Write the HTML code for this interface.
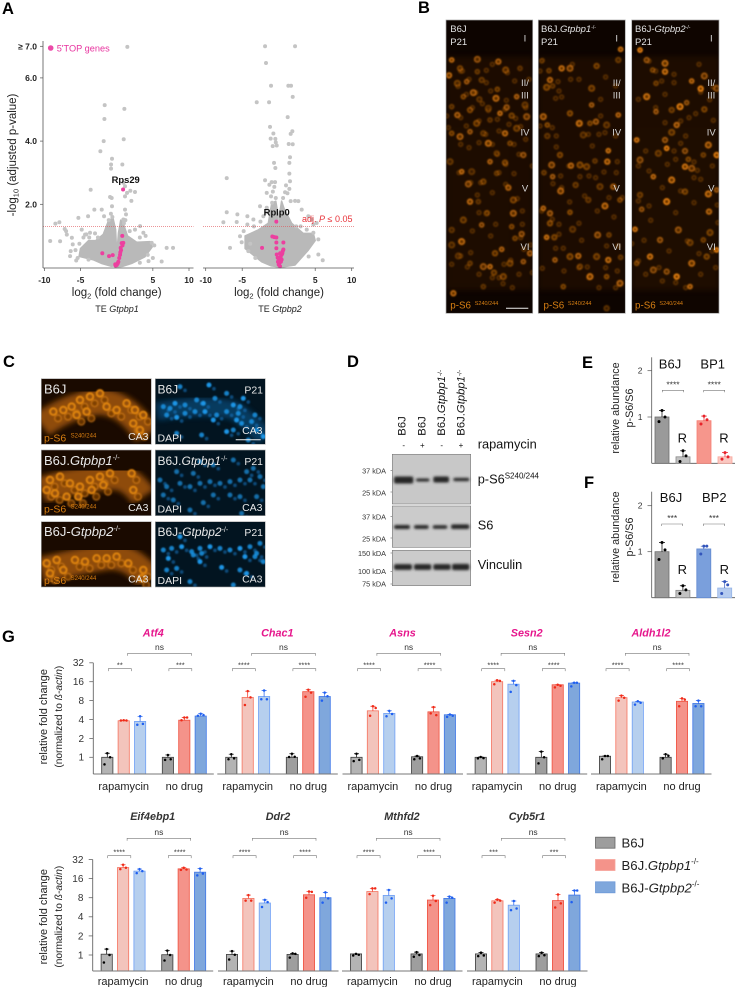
<!DOCTYPE html>
<html lang="en">
<head>
<meta charset="utf-8">
<title>Multi-panel figure</title>
<style>
html,body{margin:0;padding:0;background:#fff;}
#figure{display:block;position:absolute;left:0;top:0;font-family:"Liberation Sans",sans-serif;}
.lbl{font-weight:bold;font-size:16.5px;fill:#000;}
.it{font-style:italic;}
</style>
</head>
<body>
<svg id="figure" xmlns="http://www.w3.org/2000/svg" width="736" height="987" viewBox="0 0 736 987">
<defs>
<filter id="soft" x="-5%" y="-5%" width="110%" height="110%"><feGaussianBlur stdDeviation="2.5"/></filter>
<filter id="softer" x="-20%" y="-30%" width="140%" height="160%"><feGaussianBlur stdDeviation="9"/></filter>
<filter id="bandblur" x="-20%" y="-80%" width="140%" height="260%"><feGaussianBlur stdDeviation="1.2"/></filter>
</defs>
<rect width="736" height="987" fill="#fff"/>

<!-- panel letters -->
<text class="lbl" x="2" y="14">A</text>
<text class="lbl" x="418" y="13">B</text>
<text class="lbl" x="3" y="367">C</text>
<text class="lbl" x="347" y="367">D</text>
<text class="lbl" x="582" y="368">E</text>
<text class="lbl" x="584" y="488">F</text>
<text class="lbl" x="2" y="642">G</text>

<!-- panel A -->
<g id="volcano-left"></g>
<g id="volcano-right"></g>
<text transform="translate(16,155) rotate(-90)" text-anchor="middle" font-size="11.5" fill="#222">-log<tspan dy="2.5" font-size="7.5">10</tspan><tspan dy="-2.5"> (adjusted p-value)</tspan></text>
<text x="116.7" y="296" text-anchor="middle" font-size="11.5" fill="#222">log<tspan dy="2.5" font-size="7.5">2</tspan><tspan dy="-2.5"> (fold change)</tspan></text>
<text x="279" y="296" text-anchor="middle" font-size="11.5" fill="#222">log<tspan dy="2.5" font-size="7.5">2</tspan><tspan dy="-2.5"> (fold change)</tspan></text>
<text x="117" y="312" text-anchor="middle" font-size="9" fill="#222">TE <tspan class="it">Gtpbp1</tspan></text>
<text x="280" y="312" text-anchor="middle" font-size="9" fill="#222">TE <tspan class="it">Gtpbp2</tspan></text>
<circle cx="50.7" cy="48" r="2.8" fill="#ec4aa8"/>
<text x="56.7" y="51.5" font-size="9.2" fill="#e8339f">5'TOP genes</text>
<text x="125.7" y="183" text-anchor="middle" font-size="9.4" font-weight="bold" fill="#111">Rps29</text>
<text x="276.7" y="215.5" text-anchor="middle" font-size="9.4" font-weight="bold" fill="#111">Rplp0</text>
<text x="302" y="222" font-size="9" fill="#e8333a">adj. <tspan class="it">P</tspan> ≤ 0.05</text>

<!-- panel B -->
<svg id="cortex-1" x="446" y="20" width="86.7" height="293.3" viewBox="228 60 260 880"><rect x="228" y="60" width="260" height="880" fill="#0d0400"/></svg>
<svg id="cortex-2" x="538.3" y="20" width="87" height="293.3" viewBox="505 60 261 880"><rect x="505" y="60" width="261" height="880" fill="#0d0400"/></svg>
<svg id="cortex-3" x="631.7" y="20" width="87.3" height="293.3" viewBox="785 60 262 880"><rect x="785" y="60" width="262" height="880" fill="#0f0500"/></svg>
<g fill="none" stroke="#a8a8a8" stroke-width=".7">
<rect x="446" y="20" width="86.7" height="293.3"/>
<rect x="538.3" y="20" width="87" height="293.3"/>
<rect x="631.7" y="20" width="87.3" height="293.3"/>
</g>
<g id="cortex-text" font-size="9.5" fill="#e2e2e2">
<text x="450.3" y="32">B6J</text>
<text x="450.3" y="45">P21</text>
<text x="541" y="32">B6J.<tspan class="it">Gtpbp1</tspan><tspan font-size="5" dy="-3">-/-</tspan></text>
<text x="541" y="45">P21</text>
<text x="635" y="32">B6J-<tspan class="it">Gtpbp2</tspan><tspan font-size="5" dy="-3">-/-</tspan></text>
<text x="635" y="45">P21</text>
</g>
<g fill="#d77f12">
<text x="450.3" y="308.5" font-size="9.8">p-S6 <tspan font-size="5.5" dy="-3.5" dx="1">S240/244</tspan></text>
<text x="543.5" y="308.5" font-size="9.8">p-S6 <tspan font-size="5.5" dy="-3.5" dx="1">S240/244</tspan></text>
<text x="635" y="308.5" font-size="9.8">p-S6 <tspan font-size="5.5" dy="-3.5" dx="1">S240/244</tspan></text>
</g>
<line x1="506" y1="308.3" x2="528.3" y2="308.3" stroke="#eee" stroke-width="1"/>

<!-- panel C -->
<svg id="ca3-o1" x="41.3" y="378.7" width="110" height="65.6" viewBox="124 116 330 197"><rect x="124" y="116" width="330" height="197" fill="#1a0a00"/></svg>
<svg id="ca3-o2" x="41.3" y="450" width="110" height="65.7" viewBox="124 330 330 197"><rect x="124" y="330" width="330" height="197" fill="#1a0a00"/></svg>
<svg id="ca3-o3" x="41.3" y="521.7" width="110" height="65.3" viewBox="124 545 330 196"><rect x="124" y="545" width="330" height="196" fill="#1a0a00"/></svg>
<svg id="ca3-b1" x="155.3" y="378.7" width="110" height="65.6" viewBox="466 116 330 197"><rect x="466" y="116" width="330" height="197" fill="#021420"/></svg>
<svg id="ca3-b2" x="155.3" y="450" width="110" height="65.7" viewBox="466 330 330 197"><rect x="466" y="330" width="330" height="197" fill="#021420"/></svg>
<svg id="ca3-b3" x="155.3" y="521.7" width="110" height="65.3" viewBox="466 545 330 196"><rect x="466" y="545" width="330" height="196" fill="#021420"/></svg>
<g fill="none" stroke="#a8a8a8" stroke-width=".6">
<rect x="41.3" y="378.7" width="110" height="65.6"/>
<rect x="41.3" y="450" width="110" height="65.7"/>
<rect x="41.3" y="521.7" width="110" height="65.3"/>
<rect x="155.3" y="378.7" width="110" height="65.6"/>
<rect x="155.3" y="450" width="110" height="65.7"/>
<rect x="155.3" y="521.7" width="110" height="65.3"/>
</g>
<g fill="#e8e8e8" font-size="13">
<text x="44" y="393.5">B6J</text>
<text x="44" y="465">B6J.<tspan class="it">Gtpbp1</tspan><tspan font-size="7.5" dy="-5">-/-</tspan></text>
<text x="44" y="536">B6J-<tspan class="it">Gtpbp2</tspan><tspan font-size="7.5" dy="-5">-/-</tspan></text>
<text x="157.5" y="393.5" font-size="12">B6J</text>
<text x="157.5" y="465" font-size="12">B6J.<tspan class="it">Gtpbp1</tspan><tspan font-size="7" dy="-4">-/-</tspan></text>
<text x="157.5" y="536" font-size="12">B6J-<tspan class="it">Gtpbp2</tspan><tspan font-size="7" dy="-4">-/-</tspan></text>
</g>
<g fill="#e8e8e8" font-size="10.5" text-anchor="end">
<text x="263" y="393.5">P21</text>
<text x="263" y="465">P21</text>
<text x="263" y="536">P21</text>
<text x="148.5" y="440">CA3</text>
<text x="148.5" y="511">CA3</text>
<text x="148.5" y="582.5">CA3</text>
<text x="262.5" y="434">CA3</text>
<text x="262.5" y="511">CA3</text>
<text x="262.5" y="582.5">CA3</text>
</g>
<g fill="#e8e8e8" font-size="10.5">
<text x="157.5" y="441.5">DAPI</text>
<text x="157.5" y="512.5">DAPI</text>
<text x="157.5" y="584">DAPI</text>
</g>
<g fill="#d97f10" font-size="10.5">
<text x="44" y="441.5">p-S6 <tspan font-size="6" dy="-4" dx="1.5">S240/244</tspan></text>
<text x="44" y="512.5">p-S6 <tspan font-size="6" dy="-4" dx="1.5">S240/244</tspan></text>
<text x="44" y="584">p-S6 <tspan font-size="6" dy="-4" dx="1.5">S240/244</tspan></text>
</g>
<line x1="235.7" y1="439.7" x2="260.7" y2="439.7" stroke="#eee" stroke-width="1"/>

<!-- panel D -->
<g font-size="11.3" fill="#111">
<text transform="translate(405.7,435.7) rotate(-90)">B6J</text>
<text transform="translate(425.7,435.7) rotate(-90)">B6J</text>
<text transform="translate(445,435.7) rotate(-90)">B6J.<tspan class="it">Gtpbp1</tspan><tspan font-size="6.5" dy="-3">-/-</tspan></text>
<text transform="translate(464.3,435.7) rotate(-90)">B6J.<tspan class="it">Gtpbp1</tspan><tspan font-size="6.5" dy="-3">-/-</tspan></text>
</g>
<g font-size="8" fill="#111" text-anchor="middle">
<text x="403.7" y="448">-</text>
<text x="422.3" y="448">+</text>
<text x="441.7" y="448">-</text>
<text x="461" y="448">+</text>
</g>
<text x="477.7" y="448.5" font-size="12.8" fill="#111">rapamycin</text>
<rect x="392.3" y="454.3" width="78.4" height="49.7" fill="#c8c8c8" stroke="#777" stroke-width=".6"/>
<rect x="392.3" y="506" width="78.4" height="41.3" fill="#cbcbcb" stroke="#777" stroke-width=".6"/>
<rect x="392.3" y="550.3" width="78.4" height="35.4" fill="#cbcbcb" stroke="#777" stroke-width=".6"/>
<g id="blot-bands" fill="#262626"></g>
<g font-size="12.8" fill="#111">
<text x="477.7" y="483.3">p-S6<tspan font-size="8" dy="-5">S240/244</tspan></text>
<text x="477.7" y="529.5">S6</text>
<text x="477.7" y="569">Vinculin</text>
</g>
<g font-size="7.3" fill="#333" text-anchor="end">
<text x="386" y="473.5">37 kDA</text>
<text x="386" y="495.5">25 kDA</text>
<text x="386" y="519.5">37 kDA</text>
<text x="386" y="541.5">25 kDA</text>
<text x="386" y="556">150 kDA</text>
<text x="386" y="574">100 kDA</text>
<text x="386" y="586.5">75 kDA</text>
</g>
<g stroke="#666" stroke-width=".6">
<line x1="390.5" y1="470.5" x2="392.3" y2="470.5"/>
<line x1="390.5" y1="492" x2="392.3" y2="492"/>
<line x1="390.5" y1="516.5" x2="392.3" y2="516.5"/>
<line x1="390.5" y1="538" x2="392.3" y2="538"/>
<line x1="390.5" y1="553" x2="392.3" y2="553"/>
<line x1="390.5" y1="571.5" x2="392.3" y2="571.5"/>
<line x1="390.5" y1="584" x2="392.3" y2="584"/>
</g>

<!-- panels E, F -->
<g id="panel-e"></g>
<g id="panel-f"></g>
<g font-size="10.8" fill="#222" text-anchor="middle">
<text transform="translate(619,408) rotate(-90)">relative abundance</text>
<text transform="translate(633,408) rotate(-90)">p-S6/S6</text>
<text transform="translate(619,537) rotate(-90)">relative abundance</text>
<text transform="translate(633,537) rotate(-90)">p-S6/S6</text>
</g>
<g font-size="13" fill="#111" text-anchor="middle">
<text x="670" y="368.5">B6J</text>
<text x="712.7" y="368.5">BP1</text>
<text x="671" y="502" font-size="13">B6J</text>
<text x="714.3" y="502" font-size="13">BP2</text>
<text x="682.3" y="442.5">R</text>
<text x="724" y="442.5">R</text>
<text x="682.3" y="574">R</text>
<text x="724.3" y="574">R</text>
</g>

<!-- panel G -->
<g id="panel-g"></g>
<g font-size="11" fill="#222" text-anchor="middle">
<text transform="translate(47,716.7) rotate(-90)">relative fold change</text>
<text transform="translate(62,716.7) rotate(-90)" font-size="10.2">(normalized to <tspan class="it">ß-actin</tspan>)</text>
<text transform="translate(47,916.7) rotate(-90)">relative fold change</text>
<text transform="translate(62,916.7) rotate(-90)" font-size="10.2">(normalized to <tspan class="it">ß-actin</tspan>)</text>
</g>

<!-- legend G -->
<rect x="595.5" y="837.2" width="19.5" height="11" fill="#9d9d9d" stroke="#666" stroke-width=".8"/>
<rect x="595.5" y="859.5" width="19.5" height="11" fill="#f4938a" stroke="#f7a39a" stroke-width=".8"/>
<rect x="595.5" y="881.8" width="19.5" height="11" fill="#7fa7dc" stroke="#6e9ad8" stroke-width=".8"/>
<g font-size="13.2" fill="#222">
<text x="621.5" y="847.5">B6J</text>
<text x="621.5" y="870">B6J.<tspan class="it">Gtpbp1</tspan><tspan font-size="8" dy="-6">-/-</tspan></text>
<text x="621.5" y="892.5">B6J-<tspan class="it">Gtpbp2</tspan><tspan font-size="8" dy="-6">-/-</tspan></text>
</g>

<script>
/* ---------- Panel A data: [log2 fold change, -log10 p] ---------- */
const volcanoXTicks = [-10, -5, 5, 10];
const volcanoYTicks = [2, 4, 6, 7];
const volcanoThreshold = 1.3;
const leftOutliers = [[1.47,6.98],[-1.66,5.14],[1.06,5.02],[-1.7,4.7],[.97,4.06],[-1.8,4],[-2.26,3.68],[-.65,3.44],[-.78,3.26],[.78,3.26],[-.78,3.13],[-3.6,2.46],[.92,2.68],[1.15,2.57],[1.89,2.43],[1.43,2.36],[2.53,2.39],[-.92,2.23],[-.69,2.2],[1.15,2.25],[2.03,2.11],[-2.07,1.83],[-3.09,1.83],[-.65,1.94],[1.15,1.83],[1.29,1.68],[-3.96,1.62],[-5.3,1.57],[-1.75,1.62],[.92,1.52],[-7.93,1.43],[-8.48,1.39],[-7.19,1.22],[-7,1.15],[-9.2,.84],[-7.83,.83],[-6.9,1.04],[-6.2,.94],[-6.08,.73],[-5.16,.75],[-6.36,.52],[-6.45,.36],[7.79,.62],[6.91,.62],[6.22,.19],[4.84,.78],[3.69,1.1],[3.23,1.31],[2.53,1.2],[-3.69,1.1],[-4.84,1.2],[-4.38,1.04],[-.8,1.7],[-.6,1.6],[1,1.4],[-1.1,1.5],[1.2,1.5],[-4.6,.95],[-5.4,.3],[-4.2,1.05],[-3.8,.95],[-3,1.08],[-2.6,.95],[3.2,.95],[4,1],[5.2,.7],[4.3,.4],[5,.3],[-5.6,.22],[-5.7,.55],[-3.9,.25],[3.2,.15],[4.4,.2],[1.8,1.15]];
const leftCloudNeg = [[-5.2,.35],[-5,.6],[-3.9,.85],[-2.9,.85],[-1.85,1.05],[-1.1,1.5],[-.5,1.55],[-.15,1.2],[-.02,.55],[.02,.05],[-.8,.04],[-2,.12],[-3.2,.24]];
const leftCloudPos = [[.06,.55],[.25,1.1],[.55,1.5],[.9,1.4],[1.5,1],[2.77,.8],[4.6,.82],[4.9,.65],[3.9,.34],[2.07,.13],[.9,.04],[.1,.02]];
const leftPink = [[.88,2.47],[.77,1],[.69,.77],[.91,.78],[.8,.7],[.6,.55],[.55,.62],[.46,.4],[.5,.48],[.35,.3],[.23,.18],[.15,.14],[0,.08],[-.15,.06],[.1,.12],[-.2,.1],[-1.99,.45],[-1.06,.36],[-.55,.39]];
const rightOutliers = [[-1.87,7],[2.24,7],[-1.74,6.47],[-1.05,5.75],[1.32,5.75],[1.69,5.75],[1.92,5.4],[-3.01,5.23],[-1.32,5.23],[1.23,4.76],[-1.19,4.45],[1.87,4.31],[1.64,4.23],[-.73,4.24],[-1.1,4.08],[-.46,4.07],[-.4,3.96],[-.82,3.84],[-.27,3.86],[1.37,3.91],[1.92,3.9],[1.55,3.49],[1.46,3.31],[-.64,3.31],[-.46,3.15],[1.46,2.97],[-7.12,2.83],[-1.87,2.76],[-.96,2.7],[-.5,2.7],[1.55,2.73],[-1.28,2.62],[1.46,2.49],[.87,2.38],[-1.64,2.36],[-1.05,2.25],[2.24,2.11],[2.69,2.1],[1.64,2.1],[-7.12,1.75],[-5.66,1.68],[-7.58,1.43],[-5.75,1.44],[-4.29,1.62],[-3.47,1.52],[-2.1,1.62],[-2.56,1.94],[-1.64,1.89],[4.52,1.52],[5.2,1.41],[4.75,1.36],[-4.29,1.36],[-5.3,.99],[-6.67,.62],[-5.07,.8],[-4.16,.52],[5.43,.89],[5.43,.41],[6.03,.23],[4.06,1.62],[3.15,1.83],[3.84,1.2],[4.75,1.1],[-.8,2.4],[-.6,2.55],[-.9,2.05],[-.4,2.2],[.6,2.2],[1.2,2.35],[1,2.6],[-3.4,1.3],[-2.5,1.45],[-1.7,1.75],[-4.8,1.15],[-3.9,.75],[2.4,1.3],[3,1.3],[4.1,.35],[-3.2,.3]];
const rightCloudNeg = [[-4.6,.6],[-4.6,1],[-2.8,1.19],[-1.42,1.4],[-.96,2.03],[-.4,2.1],[-.12,1.7],[-.04,.87],[0,.02],[-1,.05],[-2.33,.18],[-3.5,.4]];
const rightCloudPos = [[.06,.87],[.12,1.7],[.4,2.1],[.75,1.85],[1.78,1.4],[3.37,1.08],[4.74,1.08],[5,.85],[4.05,.55],[2.23,.08],[.6,.02],[.1,.02]];
const rightPink = [[-.32,1.45],[-.87,.98],[-.6,.96],[-.32,.95],[.64,.79],[-.32,.79],[-.32,.61],[-2.28,.62],[.64,.57],[.55,.52],[.41,.41],[.27,.34],[-.27,.41],[-.14,.31],[.09,.25],[.09,.15],[.18,.04],[0,.09],[.4,.25],[-.1,.18],[.5,.45],[.3,.18],[-.05,.3],[.2,.45]];

/* ---------- Panel E / F data ---------- */
const eBarValues = [1, 0.14, 0.92, 0.14];
const ePointValues = [[1.14,1,.9],[.27,.16,.04],[1.02,.94,.85],[.23,.14,.09]];
const fBarValues = [1, 0.16, 1.06, 0.21];
const fPointValues = [[1.2,1.04,.83],[.26,.17,.09],[1.12,1.12,.95],[.35,.28,.09]];
const eStars = ['****','****'];
const fStars = ['***','***'];
const abundanceTicks = [1, 2];

/* ---------- Panel G data ---------- */
const foldTicks = [1, 2, 4, 8, 16, 32];
const groupLabels = ['rapamycin', 'no drug'];
const topGenes = ['Atf4','Chac1','Asns','Sesn2','Aldh1l2'];
const bottomGenes = ['Eif4ebp1','Ddr2','Mthfd2','Cyb5r1'];
const topStars = [['**','***'],['****','****'],['****','****'],['****','****'],['****','****']];
const bottomStars = [['****','****'],['****','****'],['****','****'],['***','***']];
const topBarValues = [
  [1,3.82,3.73,1,3.9,4.54],
  [1,9,9.3,1,11.1,9.3],
  [1,5.5,5,1.02,5.3,4.76],
  [1,16,14.6,1,14.3,15.2],
  [1.04,8.9,7.6,1,7.8,7.2]
];
const bottomBarValues = [
  [1.03,23.9,21,1.01,22.8,20.2],
  [1.02,7.8,6.6,1.02,8.9,8],
  [1.04,10,8.7,1.04,7.35,7.8],
  [1.04,7.15,6.1,1.04,7.2,8.8]
];
const topPointValues = [
  [[1.16,1,.77],[3.9,3.85,3.85],[4.5,3.4,3.3],[1.09,.93,.91],[4.3,4.3,3.9],[4.95,4.7,4.6]],
  [[1.12,.96,.93],[11.3,9,6.8],[11.6,8.4,8.4],[1.14,1.02,1.01],[11.9,10.7,9.2],[10.7,9.4,8]],
  [[1.14,.91,.87],[6.5,6.1,4.6],[5.5,4.9,4.5],[1.05,.96,.93],[6.3,4.7,5],[4.8,4.6,4.4]],
  [[1.01,.97,.96],[16.9,16.5,14.6],[16.5,14.1,11],[1.23,1,.8],[14.3,13.8,13],[15.4,15.4,13.5]],
  [[1.05,1.05,.93],[9.6,8.9,8],[7.8,7.4,6.9],[1.12,1.06,.96],[8.7,8.3,6.5],[8,6.5,6.5]]
];
const bottomPointValues = [
  [[1.24,1,.76],[26.4,23.7,22.6],[22.6,21,19.5],[1.17,1,.82],[23.7,22.3,22],[23,19.2,18]],
  [[1.15,1.01,.85],[8.8,7.2,7.2],[7.4,6.8,5.7],[1.06,1.04,.91],[10,9.9,8],[9.7,7.8,6.7]],
  [[1.04,1.01,.98],[11.2,11.2,9.1],[10.6,7.8,6.7],[1.11,1,.94],[8.6,7.1,6.1],[8.3,8,6.7]],
  [[1.09,.98,.96],[7.5,7.2,6.7],[7.1,5.4,5.1],[1.09,.99,.96],[9,6.5,5.6],[10.4,10.4,6.8]]
];

/* ---------- Micrograph texture (picture coordinates, not chart data) ---------- */
const cortexCells1 = [[245,180],[270,205],[322,178],[322,215],[385,185],[407,210],[450,205],[237,226],[262,250],[290,245],[335,240],[310,278],[280,290],[328,298],[378,295],[382,268],[410,322],[465,315],[440,290],[300,330],[355,325],[390,340],[425,347],[470,350],[245,320],[262,345],[320,370],[360,360],[405,400],[440,385],[300,395],[340,400],[270,410],[245,400],[380,460],[355,430],[420,430],[460,465],[240,485],[360,485],[405,488],[305,515],[275,515],[340,545],[295,552],[380,520],[415,563],[430,600],[325,605],[300,605],[280,660],[335,675],[350,640],[430,640],[425,680],[245,690],[275,725],[435,715],[455,702],[245,735],[395,748],[375,760],[265,768],[360,800],[372,818],[340,800],[300,790],[480,760],[400,830],[340,860],[250,880],[420,790],[460,785]];
const cortexCells2 = [[752,148],[680,198],[600,205],[537,212],[540,240],[530,262],[548,258],[575,205],[665,265],[665,315],[745,180],[520,350],[532,375],[532,408],[628,370],[660,370],[678,365],[710,375],[745,345],[600,340],[640,405],[715,452],[570,465],[545,495],[522,518],[603,497],[630,495],[675,483],[712,485],[650,500],[548,530],[617,555],[572,573],[600,637],[655,600],[705,618],[750,600],[730,560],[690,560],[520,625],[540,670],[608,688],[530,712],[553,712],[683,705],[717,705],[625,768],[600,770],[752,772],[715,780],[680,770],[555,780],[630,800],[750,850],[710,830],[710,925],[660,830],[580,860],[540,640]];
const cortexCells3 = [[810,150],[830,180],[885,190],[848,210],[885,215],[1003,228],[858,250],[992,266],[1040,265],[965,243],[1003,328],[830,290],[858,335],[905,330],[930,320],[950,308],[920,375],[905,397],[800,420],[885,420],[865,460],[890,445],[945,453],[1015,435],[955,478],[945,500],[965,505],[1000,465],[1040,465],[810,480],[850,530],[945,575],[1015,582],[1040,570],[810,585],[890,605],[815,628],[1017,635],[1020,698],[795,688],[870,720],[960,728],[1040,750],[890,815],[965,790],[800,790],[840,770],[925,690],[1000,720],[920,830],[850,810],[960,860],[1010,770],[905,540]];
const cellBrightness = [1,.6,.8,.5,.9,.65,.45];
const ca3Orange = [
 {band:'M124,255 Q200,200 290,185 Q380,185 440,285',cells:[[160,215],[190,210],[215,200],[240,180],[270,170],[300,160],[320,200],[350,210],[380,190],[405,210],[430,225],[400,250],[420,270],[260,215],[230,225]]},
 {band:'M124,450 Q210,420 340,410 Q390,410 430,470',cells:[[150,420],[180,410],[210,430],[240,440],[270,420],[300,410],[330,400],[395,400],[165,460],[200,470],[235,470],[275,450],[310,435],[400,450],[140,450]]},
 {band:'M124,690 Q250,660 330,650 Q400,650 445,715',cells:[[150,700],[190,690],[225,660],[255,665],[290,655],[320,655],[350,650],[385,670],[430,690],[425,715],[170,660],[140,670]]}
];
const ca3BlueBands = ['M470,215 Q600,190 700,210 Q750,240 795,295','M466,435 H796','M466,630 H796'];
const ca3Blue = [
 [[627,135],[540,140],[680,160],[730,175],[490,200],[510,205],[525,190],[555,195],[590,180],[610,190],[645,175],[500,225],[530,232],[555,220],[585,215],[615,215],[650,225],[680,215],[700,195],[720,200],[715,220],[710,240],[725,250],[700,270],[680,275],[755,245],[770,270],[790,290],[605,285],[530,280],[640,240],[745,300],[765,225]],
 [[600,365],[640,375],[700,360],[530,395],[480,420],[500,440],[540,430],[570,440],[600,430],[630,425],[660,430],[690,425],[720,420],[750,420],[780,410],[490,465],[640,465],[690,465],[720,470],[770,470],[610,488],[520,480],[570,510],[725,520],[580,400],[740,395],[760,385],[790,440]],
 [[540,590],[490,630],[515,625],[545,620],[575,635],[600,625],[630,620],[660,625],[690,630],[720,625],[750,620],[780,610],[505,655],[580,645],[605,640],[735,650],[765,650],[790,665],[665,682],[720,690],[530,685],[600,665],[770,640],[700,735],[740,700],[500,690],[570,725]]
];

const NS = 'http://www.w3.org/2000/svg';
function node(parent, tag, attrs, txt) {
  const el = document.createElementNS(NS, tag);
  for (const k in attrs) el.setAttribute(k, attrs[k]);
  if (txt !== undefined) el.textContent = txt;
  parent.appendChild(el);
  return el;
}
const root = document.getElementById('figure');

/* ---------- Volcano plots ---------- */
function drawVolcano(host, cfg) {
  const x = v => cfg.x0 + v * cfg.xUnit;
  const y = v => 267.5 - v * 31.6;
  const polyPoints = arr => arr.map(p => x(p[0]).toFixed(1) + ',' + y(p[1]).toFixed(1)).join(' ');
  [cfg.cloudNeg, cfg.cloudPos].forEach(cloud => {
    const poly = node(host, 'polygon', {points: polyPoints(cloud), fill: '#b9b9b9', stroke: '#b9b9b9', 'stroke-width': 1.5, 'stroke-linejoin': 'round'});
    
    
  });
  cfg.outliers.forEach(p => {
    const c = node(host, 'circle', {cx: x(p[0]), cy: y(p[1]), r: 2, fill: '#c4c4c4'});
    
    
  });
  cfg.pink.forEach(p => {
    const c = node(host, 'circle', {cx: x(p[0]), cy: y(p[1]), r: 2, fill: '#ec3f9f'});
    
    
  });
  const thr = node(host, 'line', {x1: cfg.axisStart, x2: cfg.axisEnd, y1: y(volcanoThreshold), y2: y(volcanoThreshold), stroke: '#e0555a', 'stroke-width': .7, 'stroke-dasharray': '1 1'});
  
  
  const xAxis = node(host, 'line', {x1: cfg.axisStart, x2: cfg.axisEnd, y1: 268, y2: 268, stroke: '#555', 'stroke-width': .8});
  
  
  volcanoXTicks.forEach(t => {
    const tick = node(host, 'line', {x1: x(t), x2: x(t), y1: 268, y2: 271, stroke: '#555', 'stroke-width': .7});
    
    
    const lab = node(host, 'text', {x: x(t), y: 283, 'text-anchor': 'middle', 'font-size': 8.5, 'font-weight': 'bold', fill: '#222'}, String(t));
    
    
  });
  if (cfg.yAxis) {
    const yAxis = node(host, 'line', {x1: 43, x2: 43, y1: 41, y2: 268, stroke: '#555', 'stroke-width': .8});
    
    
    volcanoYTicks.forEach(t => {
      const tick = node(host, 'line', {x1: 40, x2: 43, y1: y(t), y2: y(t), stroke: '#555', 'stroke-width': .7});
      
      
      const lab = node(host, 'text', {x: 37, y: y(t) + 3, 'text-anchor': 'end', 'font-size': 8.5, 'font-weight': 'bold', fill: '#222'}, (t === 7 ? '≥ ' : '') + t.toFixed(1));
      
      
    });
  }
}
drawVolcano(document.getElementById('volcano-left'), {x0: 116.7, xUnit: 7.23, axisStart: 43, axisEnd: 193.5, yAxis: true, outliers: leftOutliers, cloudNeg: leftCloudNeg, cloudPos: leftCloudPos, pink: leftPink});
drawVolcano(document.getElementById('volcano-right'), {x0: 278.7, xUnit: 7.3, axisStart: 203, axisEnd: 354, yAxis: false, outliers: rightOutliers, cloudNeg: rightCloudNeg, cloudPos: rightCloudPos, pink: rightPink});

/* ---------- Cortex micrographs ---------- */
function drawCortex(id, cells, gain, x0) {
  const host = document.getElementById(id);
  const haze = node(host, 'rect', {x: x0, y: 170, width: 262, height: 700, fill: '#3a1a02', opacity: .35, filter: 'url(#softer)'});
  
  
  const g = node(host, 'g', {filter: 'url(#soft)'});
  cells.forEach(p => {
    const c = node(g, 'circle', {cx: x0 + ((p[0] - x0 + 27) % 262), cy: 170 + ((p[1] - 170 + 33) % 700), r: 6, fill: '#4a2303', stroke: '#a85c0a', 'stroke-width': 4.5, opacity: .42});
    
    
  });
  cells.forEach((p, i) => {
    const b = cellBrightness[i % cellBrightness.length] * gain;
    const c = node(g, 'circle', {cx: p[0], cy: p[1], r: 6 + (i % 3), fill: '#6a3303', stroke: '#d8780c', 'stroke-width': 5.5, opacity: Math.min(1, b)});
    
    
  });
}
drawCortex('cortex-1', cortexCells1, .8, 228);
drawCortex('cortex-2', cortexCells2, .85, 505);
drawCortex('cortex-3', cortexCells3, 1, 785);
[['I',41.7],['II/',86],['III',98.3],['IV',135.7],['V',191.7],['VI',250]].forEach(row => {
  [525, 616.7, 711.3].forEach(cx => {
    const t = node(root, 'text', {x: cx, y: row[1], 'text-anchor': 'middle', 'font-size': 9.5, fill: '#d8d8d8'}, row[0]);
    
    
  });
});

/* ---------- CA3 micrographs ---------- */
ca3Orange.forEach((row, i) => {
  const host = document.getElementById('ca3-o' + (i + 1));
  const band = node(host, 'path', {d: row.band, fill: 'none', stroke: '#a4590a', 'stroke-width': 78, opacity: .85, filter: 'url(#softer)'});
  
  
  const g = node(host, 'g', {filter: 'url(#soft)'});
  row.cells.forEach(p => {
    const c = node(g, 'circle', {cx: p[0] + 14, cy: p[1] + 20, r: 10, fill: '#7a3d05', stroke: '#c8740e', 'stroke-width': 5, opacity: .7});
    
    
  });
  row.cells.forEach(p => {
    const c = node(g, 'circle', {cx: p[0], cy: p[1], r: 10, fill: '#94500a', stroke: '#e28610', 'stroke-width': 5.5});
    
    
  });
});
ca3Blue.forEach((dots, i) => {
  const host = document.getElementById('ca3-b' + (i + 1));
  const band = node(host, 'path', {d: ca3BlueBands[i], fill: 'none', stroke: '#0b5c94', 'stroke-width': 55, opacity: .55, filter: 'url(#softer)'});
  
  
  const g = node(host, 'g', {filter: 'url(#soft)'});
  dots.forEach(p => {
    const c = node(g, 'circle', {cx: p[0] + 15, cy: p[1] + 11, r: 5.5, fill: '#1478c4', opacity: .55});
    
    
  });
  dots.forEach((p, j) => {
    const c = node(g, 'circle', {cx: p[0], cy: p[1], r: 7.5, fill: '#1a95e6', opacity: i === 1 ? .7 : (j % 3 ? .85 : 1)});
    
    
  });
});

/* ---------- Western blot bands ---------- */
const bands = document.getElementById('blot-bands');
[[394,413.3,480,7],[416,429.5,480,3],[433.3,449,479.5,6],[453.3,469.3,479.5,3.2],
 [394,410,527,4],[414,428.7,527,3.8],[432.7,447.3,527,3.6],[451,469.3,526.7,4.6],
 [394,412,567,5.8],[414,431.3,567,5.8],[433.3,450.7,567,5.8],[452,469.3,567,6.2]].forEach(b => {
  const r = node(bands, 'rect', {x: b[0], y: b[2] - b[3] / 2, width: b[1] - b[0], height: b[3], rx: 2, filter: 'url(#bandblur)'});
  
  
});

/* ---------- Panels E / F ---------- */
const abundanceColours = [
  {fill:'#9a9a9a',stroke:'#6e6e6e',dot:'#000'},
  {fill:'#c2c2c2',stroke:'#8a8a8a',dot:'#000'},
  {fill:'#f6968c',stroke:'#f77e72',dot:'#e8232a'},
  {fill:'#fac8c1',stroke:'#f9a79d',dot:'#e8232a'},
  {fill:'#7a9fdc',stroke:'#6289d0',dot:'#3355bb'},
  {fill:'#b5cbef',stroke:'#95b3e6',dot:'#3355bb'}
];
function drawAbundance(host, cfg) {
  const y = v => cfg.y0 - v * cfg.unit;
  const axisY = node(host, 'line', {x1: 651.7, x2: 651.7, y1: cfg.yTop, y2: cfg.y0, stroke: '#555', 'stroke-width': .8});
  
  
  const axisX = node(host, 'line', {x1: 651.7, x2: 735, y1: cfg.y0, y2: cfg.y0, stroke: '#555', 'stroke-width': .8});
  
  
  abundanceTicks.forEach(t => {
    const tick = node(host, 'line', {x1: 647.5, x2: 651.7, y1: y(t), y2: y(t), stroke: '#555', 'stroke-width': .7});
    
    
    const lab = node(host, 'text', {x: 642.5, y: y(t) + 3, 'text-anchor': 'end', 'font-size': 8.5, fill: '#333'}, String(t));
    
    
  });
  cfg.values.forEach((v, i) => {
    const cx = cfg.centers(i), col = abundanceColours[cfg.colours[i]];
    const bar = node(host, 'rect', {x: cx - 7, y: y(v), width: 14, height: cfg.y0 - y(v), fill: col.fill, stroke: col.stroke, 'stroke-width': .8});
    
    
    const pts = cfg.points[i], top = Math.max.apply(null, pts);
    const err = node(host, 'path', {d: 'M' + cx + ' ' + y(v) + 'V' + y(top) + 'M' + (cx - 3) + ' ' + y(top) + 'H' + (cx + 3), fill: 'none', stroke: col.dot, 'stroke-width': .7});
    
    
    pts.forEach((p, j) => {
      const c = node(host, 'circle', {cx: cx + [0, 3, -3][j], cy: y(p), r: 1.5, fill: col.dot});
      
      
    });
  });
  cfg.brackets.forEach((b, i) => {
    const br = node(host, 'path', {d: 'M' + b[0] + ' ' + (cfg.brY + 2) + 'V' + cfg.brY + 'H' + b[1] + 'V' + (cfg.brY + 2), fill: 'none', stroke: '#777', 'stroke-width': .6});
    
    
    const st = node(host, 'text', {x: (b[0] + b[1]) / 2, y: cfg.brY - 3, 'text-anchor': 'middle', 'font-size': 8.5, fill: '#333'}, cfg.stars[i]);
    
    
  });
}
drawAbundance(document.getElementById('panel-e'), {y0: 463.3, unit: 46.3, yTop: 357.3, values: eBarValues, points: ePointValues, colours: [0,1,2,3], centers: i => 662 + i * 21, brY: 390.3, brackets: [[662.3,683.7],[703.7,724.7]], stars: eStars});
drawAbundance(document.getElementById('panel-f'), {y0: 597.7, unit: 46, yTop: 491.7, values: fBarValues, points: fPointValues, colours: [0,1,4,5], centers: i => 662 + i * 20.9, brY: 524, brackets: [[661.7,682.7],[703.3,724.7]], stars: fStars});

/* ---------- Panel G ---------- */
const foldColours = [
  {fill:'#b4b4b4',stroke:'#3c3c3c',dot:'#000'},
  {fill:'#f3c4bc',stroke:'#f6735f',dot:'#f02a18'},
  {fill:'#b6cfee',stroke:'#6e9ff5',dot:'#1f5ff0'},
  {fill:'#9e9e9e',stroke:'#3c3c3c',dot:'#000'},
  {fill:'#f4938a',stroke:'#f0513f',dot:'#f02a18'},
  {fill:'#7fa7dc',stroke:'#3f77e8',dot:'#1f5ff0'}
];
function drawFold(host, gene, vals, pts, stars, lay, titleColour, showAxis) {
  const barX = i => lay.left + 14 + i * 16.4 + (i >= 3 ? 11.4 : 0);
  const y = v => lay.y1 - Math.log2(v) * lay.unit;
  const title = node(host, 'text', {x: barX(0) + 46, y: lay.titleY, 'text-anchor': 'middle', 'font-size': 10.8, 'font-weight': 'bold', 'font-style': 'italic', fill: titleColour}, gene);
  
  
  vals.forEach((v, i) => {
    const cx = barX(i), col = foldColours[i];
    const bar = node(host, 'rect', {x: cx - 5.6, y: y(v), width: 11.2, height: lay.base - y(v), fill: col.fill, stroke: col.stroke, 'stroke-width': .8});
    
    
    const top = Math.max.apply(null, pts[i]);
    const err = node(host, 'path', {d: 'M' + cx + ' ' + y(v) + 'V' + y(top) + 'M' + (cx - 2.5) + ' ' + y(top) + 'H' + (cx + 2.5), fill: 'none', stroke: col.dot, 'stroke-width': .7});
    
    
    pts[i].forEach((p, j) => {
      const c = node(host, 'circle', {cx: cx + [0, 2.8, -2.8][j], cy: y(p), r: 1.25, fill: col.dot});
      
      
    });
  });
  const axis = node(host, 'line', {x1: lay.left, x2: lay.left + 120.5, y1: lay.base, y2: lay.base, stroke: '#777', 'stroke-width': 1});
  
  
  groupLabels.forEach((g, k) => {
    const lab = node(host, 'text', {x: barX(k === 0 ? 1 : 4), y: lay.labelY, 'text-anchor': 'middle', 'font-size': 11, fill: '#222'}, g);
    
    
  });
  const bracket = (a, b, yy, str, fs, dy) => {
    const br = node(host, 'path', {d: 'M' + a + ' ' + (yy + 2.4) + 'V' + yy + 'H' + b + 'V' + (yy + 2.4), fill: 'none', stroke: '#777', 'stroke-width': .6});
    
    
    const st = node(host, 'text', {x: (a + b) / 2, y: yy - dy, 'text-anchor': 'middle', 'font-size': fs, fill: '#333'}, str);
    
    
  };
  bracket(barX(0) + 1, barX(1) + 7.7, lay.sigY, stars[0], 7.5, 1.2);
  bracket(barX(3) + 1, barX(4) + 7.5, lay.sigY, stars[1], 7.5, 1.2);
  bracket(barX(1) + 4, barX(4) + 7, lay.nsY, 'ns', 8.5, 3.5);
  if (showAxis) {
    const yl = node(host, 'line', {x1: lay.left, x2: lay.left, y1: y(32), y2: lay.base, stroke: '#666', 'stroke-width': .9});
    
    
    foldTicks.forEach(t => {
      const tk = node(host, 'line', {x1: lay.left - 4, x2: lay.left, y1: y(t), y2: y(t), stroke: '#666', 'stroke-width': .8});
      
      
      const lab = node(host, 'text', {x: lay.left - 9.3, y: y(t) + 3.4, 'text-anchor': 'end', 'font-size': 10, fill: '#333'}, String(t));
      
      
    });
  }
}
const panelG = document.getElementById('panel-g');
const topLefts = [93.3, 217.3, 342.5, 466.7, 591];
const bottomLefts = [92.7, 218, 342, 467];
topGenes.forEach((g, i) => drawFold(panelG, g, topBarValues[i], topPointValues[i], topStars[i],
  {left: topLefts[i], y1: 757.3, unit: 18.9, base: 774, titleY: 636.5, labelY: 790, sigY: 668.7, nsY: 653.3}, '#e6168c', i === 0));
bottomGenes.forEach((g, i) => drawFold(panelG, g, bottomBarValues[i], bottomPointValues[i], bottomStars[i],
  {left: bottomLefts[i], y1: 955, unit: 19.1, base: 971, titleY: 820, labelY: 985, sigY: 855.7, nsY: 838.3}, '#333', i === 0));
</script>
</svg>
</body>
</html>
